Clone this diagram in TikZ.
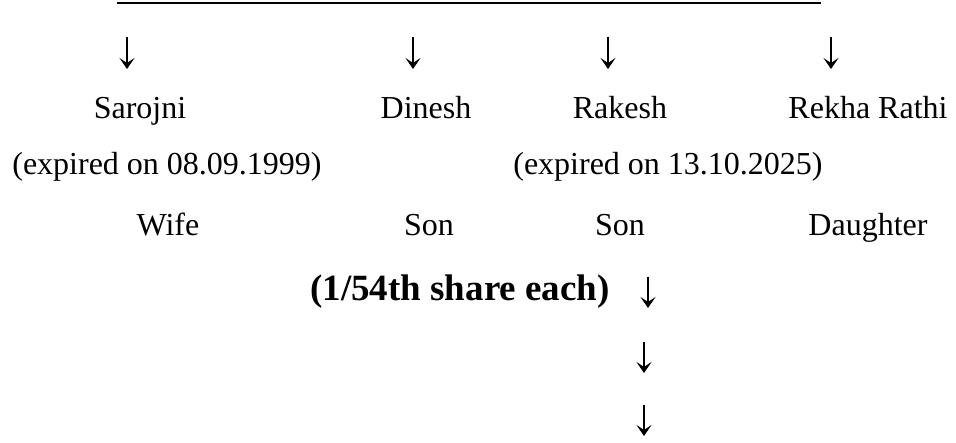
\documentclass[tikz,border=0pt]{standalone}
\usepackage{fontspec}
\setmainfont{Liberation Serif}
\usetikzlibrary{arrows.meta}
\begin{document}
\begin{tikzpicture}[x=1pt,y=-1pt,
  txt/.style={inner sep=0pt,anchor=base,font=\fontsize{32}{38}\selectfont},
  btxt/.style={inner sep=0pt,anchor=base,font=\fontsize{37}{44}\selectfont\bfseries},
  darr/.style={line width=1.3pt,-{Stealth[width=15pt,length=11pt,inset=5pt]}}]
\useasboundingbox (0,0) rectangle (956,443);
\coordinate (l1) at (117,3);
\coordinate (l2) at (821,3);
\draw[line width=1.3pt] (l1) -- (l2);
% arrows row
\foreach \n/\x in {1/127,2/413,3/608,4/831}{
  \coordinate (a\n s) at (\x,37);
  \coordinate (a\n e) at (\x,69);
  \draw[darr] (a\n s) -- (a\n e);
}
% names
\node[txt] (n1) at (140,119) {Sarojni};
\node[txt] (n2) at (426,119) {Dinesh};
\node[txt] (n3) at (620,119) {Rakesh};
\node[txt] (n4) at (868,119) {Rekha Rathi};
% expired
\node[txt] (e1) at (167,175) {(expired on 08.09.1999)};
\node[txt] (e3) at (668,175) {(expired on 13.10.2025)};
% relations
\node[txt] (r1) at (168,236) {Wife};
\node[txt] (r2) at (429,236) {Son};
\node[txt] (r3) at (620,236) {Son};
\node[txt] (r4) at (868,236) {Daughter};
% share
\node[btxt] (sh) at (460,301) {(1/54th share each)};
\coordinate (b1s) at (648,277); \coordinate (b1e) at (648,308);
\coordinate (b2s) at (644,342); \coordinate (b2e) at (644,373);
\coordinate (b3s) at (644,405); \coordinate (b3e) at (644,436);
\draw[darr] (b1s) -- (b1e);
\draw[darr] (b2s) -- (b2e);
\draw[darr] (b3s) -- (b3e);
\end{tikzpicture}
\end{document}
